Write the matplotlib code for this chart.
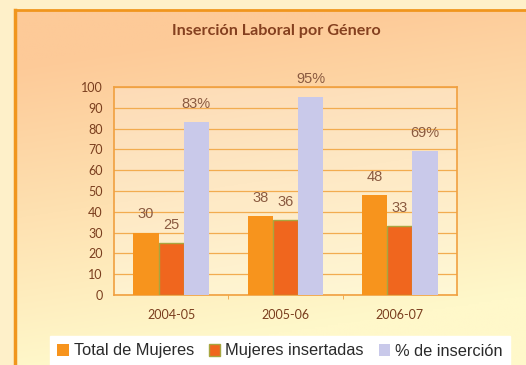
import numpy as np
import matplotlib
matplotlib.use("Agg")
import matplotlib.pyplot as plt
from matplotlib.lines import Line2D
from matplotlib.patches import Patch

# Data
periods = ["2004-05", "2005-06", "2006-07"]
total_mujeres = [30, 38, 48]
mujeres_insertadas = [25, 36, 33]
pct_insercion = [83, 95, 69]
series_names = ["Total de Mujeres", "Mujeres insertadas", "% de inserción"]
yticks = [0, 10, 20, 30, 40, 50, 60, 70, 80, 90, 100]

W, H = 526, 365
fig = plt.figure(figsize=(W / 100, H / 100), dpi=100)
fig.patch.set_facecolor("#FEF0C9")

# Gradient panel behind the chart
x0, ytop = 15, 10
bg = fig.add_axes([x0 / W, 0, 1 - x0 / W, 1 - ytop / H], zorder=0)
ny, nx = 200, 200
yy, xx = np.mgrid[0:1:ny * 1j, 0:1:nx * 1j]
t = np.clip(yy * 1.15 + (xx - 0.5) * 0.25 - 0.05, 0, 1)
top = np.array([253, 202, 152]) / 255
bot = np.array([255, 248, 202]) / 255
img = top[None, None, :] * (1 - t[..., None]) + bot[None, None, :] * t[..., None]
bg.imshow(img, aspect="auto", extent=[0, 1, 0, 1], origin="upper")
bg.set_axis_off()

# Orange panel border (left and top)
border = "#F0961E"
fig.add_artist(Line2D([x0 / W, x0 / W], [0, 1 - ytop / H], color=border, lw=2.5,
                      transform=fig.transFigure, zorder=1))
fig.add_artist(Line2D([x0 / W, 1], [1 - ytop / H, 1 - ytop / H], color=border, lw=2.0,
                      transform=fig.transFigure, zorder=1))

fig.text(276 / W, 1 - 31 / H, "Inserción Laboral por Género", ha="center", va="center",
         fontsize=11.6, fontweight="bold", color="#85401F", family="Lato")

# Main axes
left, right, ytop_ax, ybot_ax = 114, 457, 87, 295
ax = fig.add_axes([left / W, 1 - ybot_ax / H, (right - left) / W, (ybot_ax - ytop_ax) / H], zorder=2)
ax.set_facecolor((1, 1, 1, 0.25))

x = np.arange(len(periods))
bw = 0.22
c_total, c_ins, c_pct = "#F7941D", "#F0661E", "#C9C9EA"
ax.bar(x - bw, total_mujeres, bw, color=c_total, zorder=3)
ax.bar(x, mujeres_insertadas, bw, color=c_ins, edgecolor="#A8A640", linewidth=1.0, zorder=3)
ax.bar(x + bw, pct_insercion, bw, color=c_pct, zorder=3)

lab_color = "#8A5A40"
for i in range(len(periods)):
    ax.annotate(str(total_mujeres[i]), (x[i] - bw, total_mujeres[i]), xytext=(0, 8),
                textcoords="offset points", ha="center", va="bottom", fontsize=10.5,
                color=lab_color, family="Liberation Sans")
    ax.annotate(str(mujeres_insertadas[i]), (x[i], mujeres_insertadas[i]), xytext=(0, 8),
                textcoords="offset points", ha="center", va="bottom", fontsize=10.5,
                color=lab_color, family="Liberation Sans")
    ax.annotate(f"{pct_insercion[i]}%", (x[i] + bw, pct_insercion[i]), xytext=(0, 8),
                textcoords="offset points", ha="center", va="bottom", fontsize=10.5,
                color=lab_color, family="Liberation Sans")

ax.set_xlim(-0.5, 2.5)
ax.set_ylim(0, 100)
ax.set_yticks(yticks)
ax.set_xticks(x)
ax.set_xticklabels(periods)
ax.set_xticks([0.5, 1.5], minor=True)
ax.tick_params(axis="x", which="major", length=0, pad=10, labelsize=9, labelcolor="#7A3E1E")
ax.tick_params(axis="x", which="minor", length=3, color="#F0A040", direction="out")
ax.tick_params(axis="y", length=0, pad=8, labelsize=9, labelcolor="#7A3E1E")
for lbl in ax.get_xticklabels() + ax.get_yticklabels():
    lbl.set_family("Lato")

ax.grid(axis="y", color="#F2AC50", lw=0.9, zorder=1)
ax.set_axisbelow(True)
for s in ax.spines.values():
    s.set_color("#F0A040")
    s.set_linewidth(1.2)

# Legend
handles = [Patch(facecolor=c_total), Patch(facecolor=c_ins, edgecolor="#A8A640", lw=1),
           Patch(facecolor=c_pct)]
leg = fig.legend(handles, series_names, loc="center", bbox_to_anchor=(280 / W, 1 - 351 / H),
                 ncol=3, frameon=True, fancybox=False, framealpha=1, edgecolor="white",
                 facecolor="white", handlelength=0.7, handleheight=0.7, handletextpad=0.3,
                 columnspacing=0.9, borderpad=0.45,
                 prop={"family": "Liberation Sans", "size": 11.8})
for txt in leg.get_texts():
    txt.set_color("#2A2A2A")

fig.savefig("out.png", dpi=100)
